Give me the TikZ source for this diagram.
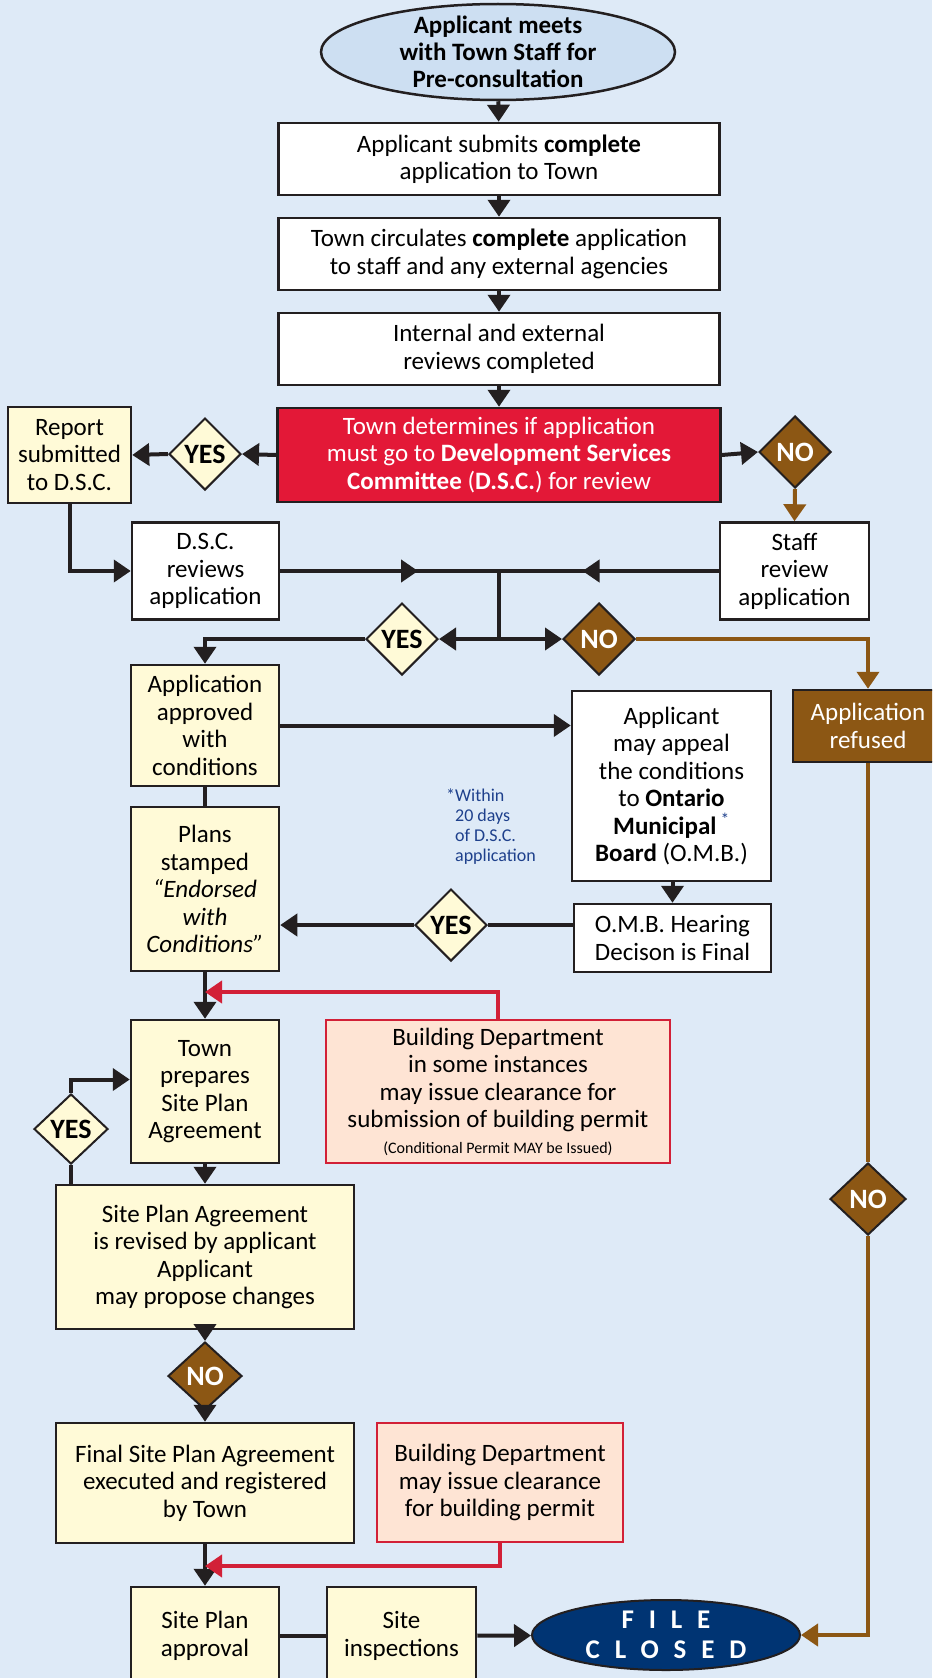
\documentclass[tikz,border=0pt]{standalone}
\usepackage{fontspec}
\setmainfont{Carlito}
\usetikzlibrary{shapes.geometric,arrows.meta,calc}
\definecolor{bgblue}{RGB}{222,234,247}
\definecolor{startblue}{RGB}{205,223,242}
\definecolor{ink}{RGB}{35,31,32}
\definecolor{cream}{RGB}{255,250,215}
\definecolor{hbrown}{RGB}{140,87,20}
\definecolor{hred}{RGB}{227,24,55}
\definecolor{redline}{RGB}{210,32,55}
\definecolor{peach}{RGB}{254,228,212}
\definecolor{navy}{RGB}{0,52,115}
\definecolor{noteblue}{RGB}{30,64,140}
\begin{document}
\begin{tikzpicture}[x=1pt,y=-1pt,
    box/.style={draw=ink,line width=2.5pt,fill=white,inner sep=0pt,align=center,font=\fontsize{25}{27.5}\selectfont},
    ybox/.style={box,fill=cream},
    bbox/.style={box,draw=redline,fill=peach},
    yesdia/.style={diamond,draw=ink,line width=2pt,fill=cream,inner sep=0pt,font=\fontsize{28}{28}\selectfont\bfseries},
    nodia/.style={yesdia,fill=hbrown,text=white},
    conn/.style={draw=ink,line width=4pt},
    arr/.style={conn,-{Triangle[length=17pt,width=22pt]}},
    barr/.style={arr,draw=hbrown},
    rarr/.style={arr,draw=redline}]
    \clip (0,0) rectangle (932,1678);
    \fill[bgblue] (0,0) rectangle (932,1678);
    % top of the chart
    \node[ellipse,draw=ink,line width=2.5pt,fill=startblue,minimum width=354,minimum height=96,inner xsep=0pt,inner ysep=-10pt,align=center,font=\fontsize{25}{27}\selectfont\bfseries] (start) at (498,52) {Applicant meets\\with Town Staff for\\Pre-consultation};
    \node[box,minimum width=441,minimum height=72] (submit) at (499,159) {Applicant submits \textbf{complete}\\application to Town};
    \node[box,minimum width=441,minimum height=72] (circ) at (499,254) {Town circulates \textbf{complete} application\\to staff and any external agencies};
    \node[box,minimum width=441,minimum height=72] (review) at (499,349) {Internal and external\\reviews completed};
    \node[box,fill=hred,text=white,minimum width=443,minimum height=94] (decide) at (499,455) {Town determines if application\\must go to \textbf{Development Services}\\\textbf{Committee} (\textbf{D.S.C.}) for review};
    \node[yesdia,minimum width=72,minimum height=72] (yesA) at (205,454) {YES};
    \node[ybox,minimum width=123,minimum height=96] (report) at (69.5,455) {Report\\submitted\\to D.S.C.};
    \node[nodia,minimum width=72,minimum height=72] (noA) at (795,452) {NO};
    \node[box,minimum width=147,minimum height=97] (dsc) at (205.5,571) {D.S.C.\\reviews\\application};
    \node[box,minimum width=149,minimum height=97] (staff) at (794.5,571) {Staff\\review\\application};
    \coordinate (jn) at (499,571);
    \coordinate (jd) at (499,639);
    \node[yesdia,minimum width=72,minimum height=72] (yesB) at (402,639) {YES};
    \node[nodia,minimum width=72,minimum height=72] (noB) at (599,639) {NO};
    % middle part
    \node[ybox,minimum width=148,minimum height=121] (approved) at (205,725.5) {Application\\approved\\with\\conditions};
    \node[box,minimum width=199,minimum height=190] (appeal) at (671.5,786) {Applicant\\may appeal\\the conditions\\to \textbf{Ontario}\\\textbf{Municipal}\,{\color{noteblue}\textsuperscript{*}}\\\textbf{Board} (O.M.B.)};
    \node[box,fill=hbrown,text=white,minimum width=150,minimum height=72] (refused) at (868,726) {Application\\refused};
    \node[align=left,text=noteblue,inner sep=0pt,font=\fontsize{18}{20}\selectfont] (note) at (491,827) {*Within\\\phantom{*}20 days\\\phantom{*}of D.S.C.\\\phantom{*}application};
    \node[ybox,minimum width=148,minimum height=164] (plans) at (205,889) {Plans\\stamped\\\textit{“Endorsed}\\\textit{with}\\\textit{Conditions”}};
    \node[box,minimum width=197,minimum height=68] (omb) at (672.5,938) {O.M.B. Hearing\\Decison is Final};
    \node[yesdia,minimum width=72,minimum height=72] (yesC) at (451,925) {YES};
    \node[ybox,minimum width=148,minimum height=143] (prepare) at (205,1091.5) {Town\\prepares\\Site Plan\\Agreement};
    \node[bbox,minimum width=344,minimum height=143] (bldA) at (498,1091.5) {Building Department\\in some instances\\may issue clearance for\\submission of building permit\\[-2pt]{\fontsize{16}{18}\selectfont (Conditional Permit MAY be Issued)}};
    \coordinate (jA) at (205,992);
    \node[yesdia,minimum width=74,minimum height=70] (yesD) at (71,1129) {YES};
    \node[ybox,minimum width=298,minimum height=144] (revised) at (205,1257) {Site Plan Agreement\\is revised by applicant\\Applicant\\may propose changes};
    \node[nodia,minimum width=74,minimum height=68] (noC) at (205,1376) {NO};
    \node[nodia,minimum width=76,minimum height=72] (noD) at (868,1199) {NO};
    % bottom of the chart
    \node[ybox,minimum width=298,minimum height=120] (final) at (205,1483) {Final Site Plan Agreement\\executed and registered\\by Town};
    \node[bbox,minimum width=246,minimum height=119] (bldB) at (500,1482.5) {Building Department\\may issue clearance\\for building permit};
    \coordinate (jB) at (205,1566);
    \node[ybox,minimum width=148,minimum height=98] (site) at (205,1636) {Site Plan\\approval};
    \node[ybox,minimum width=149,minimum height=98] (insp) at (401.5,1636) {Site\\inspections};
    \node[ellipse,draw=ink,line width=2pt,fill=navy,text=white,minimum width=268,minimum height=70,inner xsep=0pt,inner ysep=-6pt,align=center,font=\fontsize{27}{30}\selectfont\bfseries\addfontfeature{LetterSpace=55}] (closed) at (666,1635) {FILE\\CLOSED};
    % connectors
    \draw[arr] (start) -- (submit);
    \draw[arr] (submit) -- (circ);
    \draw[arr] (circ) -- (review);
    \draw[arr] (review) -- (decide);
    \draw[arr] (decide.west) -- (yesA.east);
    \draw[arr] (yesA.west) -- (report.east);
    \draw[arr] (decide.east) -- (noA.west);
    \draw[barr] (noA.south) -- (staff.north);
    \draw[arr] (report.south) |- (dsc.west);
    \draw[conn] (dsc.east) -- (staff.west);
    \draw[arr] (dsc.east) -- ($(dsc.east)!0.63!(jn)$);
    \draw[arr] (staff.west) -- ($(staff.west)!0.62!(jn)$);
    \draw[conn] (jn) -- (jd);
    \draw[arr] (jd) -- (yesB.east);
    \draw[arr] (jd) -- (noB.west);
    \draw[arr] (yesB.west) -| (approved.north);
    \draw[barr] (noB.east) -| (refused.north);
    \draw[arr] (approved.east) -- (approved.east -| appeal.west);
    \draw[conn] (approved) -- (plans);
    \draw[arr] (appeal.south -| omb.north) -- (omb.north);
    \draw[conn] (yesC.east) -- (yesC.east -| omb.west);
    \draw[arr] (yesC.west) -- (yesC.west -| plans.east);
    \draw[arr] (plans) -- (prepare);
    \draw[rarr] (bldA.north) |- (jA);
    \draw[arr] (yesD.north) |- ([yshift=12pt]prepare.west);
    \draw[conn] (yesD.south) -- (yesD.south |- revised.north);
    \draw[arr] (prepare) -- (revised);
    \draw[arr] (revised) -- (noC);
    \draw[arr] (noC) -- (final);
    \draw[barr,-] (refused.south) -- (noD.north);
    \draw[barr] (noD.south) |- (closed.east);
    \draw[arr] (final) -- (site);
    \draw[rarr] (bldB.south) |- (jB);
    \draw[conn] (site) -- (insp);
    \draw[arr] (insp) -- (closed);
\end{tikzpicture}
\end{document}
